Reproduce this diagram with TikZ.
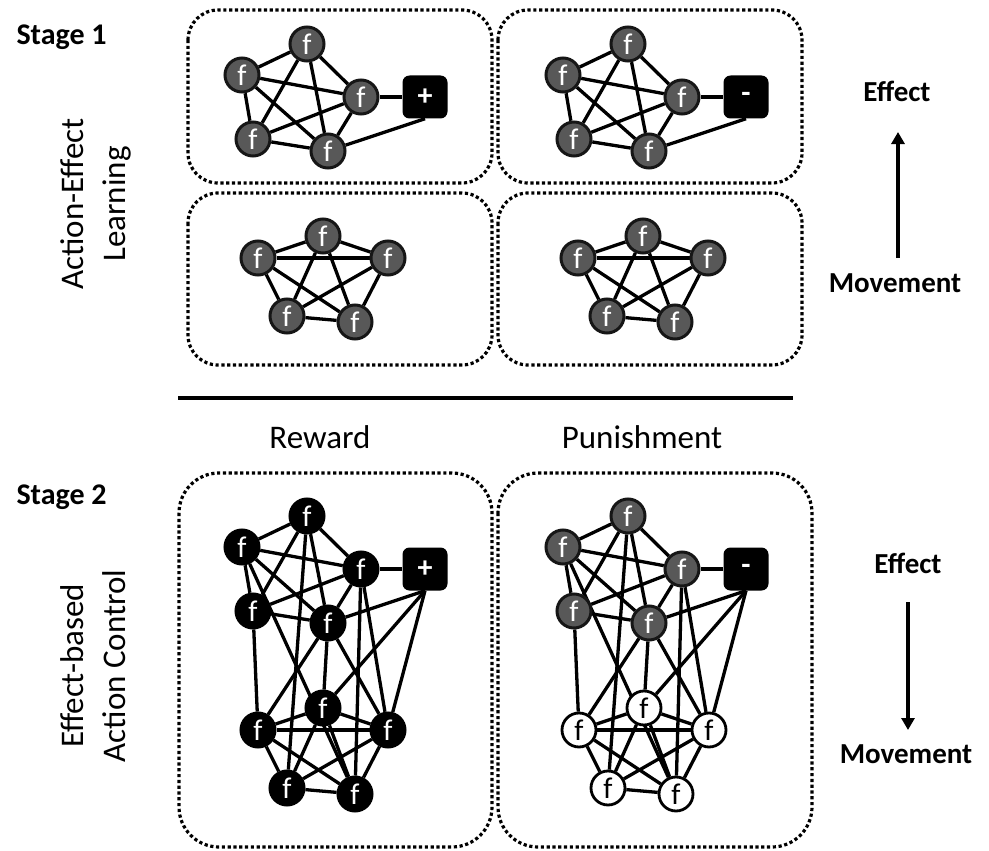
\documentclass[tikz,border=0pt]{standalone}
\usepackage{fontspec}
\setmainfont{Carlito}
\usetikzlibrary{backgrounds,arrows.meta}
\definecolor{fgray}{HTML}{585858}
\definecolor{fring}{HTML}{161616}

\tikzset{
  edge/.style={line width=3.3pt, draw=black},
  fn/.style={circle, minimum size=34pt, inner sep=0pt, line width=3pt,
    font=\fontsize{30}{30}\selectfont},
  grayf/.style={fn, draw=fring, fill=fgray, text=white},
  blackf/.style={fn, draw=black, fill=black, text=white},
  whitef/.style={fn, draw=black, fill=white, text=black, line width=2.8pt},
  outbox/.style={rectangle, rounded corners=7pt, fill=black, minimum width=45pt,
    minimum height=43pt, inner sep=0pt, text=white,
    font=\bfseries\fontsize{30}{30}\selectfont},
  panel/.style={draw=black, line width=3.2pt, dash pattern=on 3.2pt off 2.6pt,
    rounded corners=#1},
  panel/.default=30pt,
  sidelabel/.style={font=\fontsize{33}{33}\selectfont, rotate=90, anchor=base},
  stagelabel/.style={font=\bfseries\fontsize{30}{30}\selectfont, anchor=base west},
  dirlabel/.style={font=\bfseries\fontsize{29}{29}\selectfont, anchor=base},
  collabel/.style={font=\fontsize{33}{33}\selectfont, anchor=base},
  flow/.style={line width=4pt, -{Triangle[length=12pt,width=13pt]}},
}

% effect network: five feature nodes plus the outcome box
\newcommand\effnet[2]{%
  \node[#1] (t1) at (307,44) {f};
  \node[#1] (t2) at (242,75) {f};
  \node[#1] (t3) at (361,97) {f};
  \node[#1] (t4) at (253,139) {f};
  \node[#1] (t5) at (328,151) {f};
  \node[outbox] (o) at (425,97) {#2};
  \begin{scope}[on background layer]
    \foreach \a/\b in {t1/t2,t1/t3,t1/t4,t1/t5,t2/t3,t2/t4,t2/t5,t3/t4,t3/t5,t4/t5}
      \draw[edge] (\a) -- (\b);
    \draw[edge] (t3) -- (o);
    \draw[edge] (t5) -- (o.south);
  \end{scope}}

% movement network: five feature nodes, fully connected
\newcommand\movnet[1]{%
  \node[#1] (m1) at (323,236) {f};
  \node[#1] (m2) at (258,258) {f};
  \node[#1] (m3) at (388,258) {f};
  \node[#1] (m4) at (287,316) {f};
  \node[#1] (m5) at (355,322) {f};
  \begin{scope}[on background layer]
    \foreach \a/\b in {m1/m2,m1/m3,m1/m4,m1/m5,m2/m3,m2/m4,m2/m5,m3/m4,m3/m5,m4/m5}
      \draw[edge] (\a) -- (\b);
  \end{scope}}

% links between movement and effect features
\newcommand\crosslinks{%
  \begin{scope}[on background layer]
    \foreach \a/\b in {t1/m4,t2/m5,t3/m5,t3/m3,t4/m2,t5/m2,t5/m1,t5/m3}
      \draw[edge] (\a) -- (\b);
    \draw[edge] (o.south) -- (m1);
    \draw[edge] (o.south) -- (m3);
  \end{scope}}

\begin{document}
\begin{tikzpicture}[x=1pt, y=-1pt]
  \useasboundingbox (0,0) rectangle (989,851);

  % panels
  \draw[panel] (188,10) rectangle (492,183);
  \draw[panel] (498,10) rectangle (802,183);
  \draw[panel] (188,193) rectangle (492,365);
  \draw[panel] (498,193) rectangle (802,365);
  \draw[panel=40pt] (179,473) rectangle (492,847);
  \draw[panel=40pt] (498,473) rectangle (812,847);

  % stage 1
  \begin{scope}[name prefix=ra-]
    \effnet{grayf}{+}
  \end{scope}
  \begin{scope}[name prefix=pa-, shift={(321,0)}]
    \effnet{grayf}{-}
  \end{scope}
  \begin{scope}[name prefix=rb-]
    \movnet{grayf}
  \end{scope}
  \begin{scope}[name prefix=pb-, shift={(320,0)}]
    \movnet{grayf}
  \end{scope}

  % stage 2
  \begin{scope}[name prefix=rc-, shift={(0,472)}]
    \effnet{blackf}{+}
    \movnet{blackf}
    \crosslinks
  \end{scope}
  \begin{scope}[name prefix=pc-, shift={(321,472)}]
    \effnet{grayf}{-}
    \movnet{whitef}
    \crosslinks
  \end{scope}

  % separator and column headings
  \coordinate (ruleL) at (178,398);
  \coordinate (ruleR) at (793,398);
  \draw[line width=3.2pt] (ruleL) -- (ruleR);
  \node[collabel] (reward) at (320,448) {Reward};
  \node[collabel] (punish) at (642,448) {Punishment};

  % stage labels
  \node[stagelabel] (stage1) at (13,45) {Stage 1};
  \node[stagelabel] (stage2) at (13,504) {Stage 2};
  \node[sidelabel] (ael1) at (83,204) {Action-Effect};
  \node[sidelabel] (ael2) at (125,204) {Learning};
  \node[sidelabel] (eac1) at (83,666) {Effect-based};
  \node[sidelabel] (eac2) at (125,666) {Action Control};

  % direction of association
  \node[dirlabel] (eff1) at (897,102) {Effect};
  \node[dirlabel] (mov1) at (895,292) {Movement};
  \coordinate (up0) at (898,258);
  \coordinate (up1) at (898,132);
  \draw[flow] (up0) -- (up1);

  \node[dirlabel] (eff2) at (908,573) {Effect};
  \node[dirlabel] (mov2) at (906,763) {Movement};
  \coordinate (dn0) at (908,602);
  \coordinate (dn1) at (908,730);
  \draw[flow] (dn0) -- (dn1);
\end{tikzpicture}
\end{document}
